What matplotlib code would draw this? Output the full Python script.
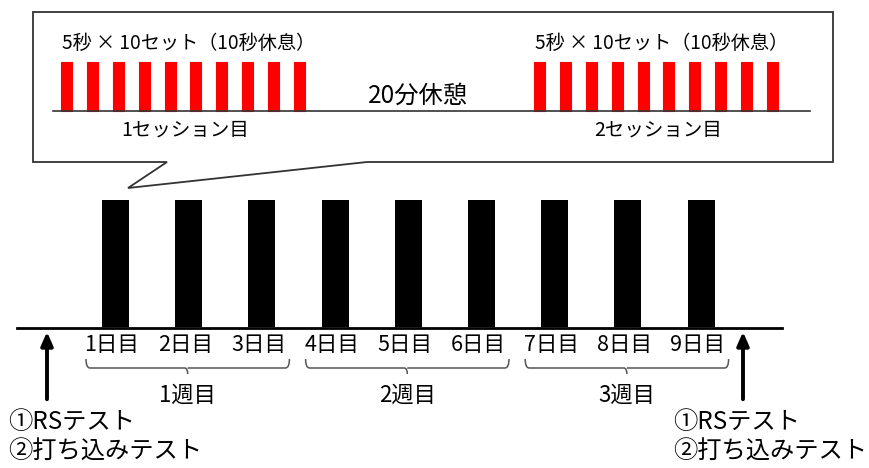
import matplotlib.pyplot as plt
from matplotlib.patches import Polygon, PathPatch
from matplotlib.path import Path

plt.rcParams['font.family'] = ['Noto Sans CJK JP', 'DejaVu Sans']

# データ
set_label = '5秒 × 10セット（10秒休息）'
n_sets = 10
session_labels = ['1セッション目', '2セッション目']
rest_label = '20分休憩'
day_labels = ['1日目', '2日目', '3日目', '4日目', '5日目', '6日目', '7日目', '8日目', '9日目']
week_labels = ['1週目', '2週目', '3週目']
days_per_week = 3
test_label = '①RSテスト\n②打ち込みテスト'

fig = plt.figure(figsize=(8.7, 4.68), dpi=100)
ax = fig.add_axes([0, 0, 1, 1])
ax.set_xlim(0, 870)
ax.set_ylim(468, 0)
ax.axis('off')

# 吹き出し
bubble = Polygon([(33, 12), (833, 12), (833, 162), (367, 162), (128, 188), (167, 162), (33, 162)],
                 closed=True, facecolor='white', edgecolor='#333333', lw=1.3, zorder=1)
ax.add_patch(bubble)

# セッション (赤いバー)
session_x0 = [61, 534]
set_step = 25.9
for s, x0 in enumerate(session_x0):
    xs = [x0 + i * set_step for i in range(n_sets)]
    ax.bar(xs, 49, bottom=62, width=11, align='edge', color='#FF0000',
           edgecolor='#FF0000', lw=0.8, joinstyle='round', zorder=2)
    ax.text(x0 + 1, 43, set_label, fontsize=13.8, va='center', ha='left', zorder=3)
    xc = (xs[0] + xs[-1] + 11) / 2
    ax.text(xc + 2, 130, session_labels[s], fontsize=14, ha='center', va='center', zorder=3)
ax.plot([53, 810], [111, 111], color='#333333', lw=1.2, zorder=2)
ax.text(418, 96, rest_label, fontsize=17.5, ha='center', va='center', zorder=3)

# 日ごとのトレーニング (黒いバー)
day_x0 = 102
day_step = 73.2
day_xs = [day_x0 + i * day_step for i in range(len(day_labels))]
ax.bar(day_xs, 127, bottom=200, width=27, align='edge', color='black', zorder=2)
ax.plot([17, 782], [328, 328], color='black', lw=2, zorder=3)
for x, lab in zip(day_xs, day_labels):
    ax.text(x + 10, 345, lab, fontsize=15.5, ha='center', va='center')

# 週のかっこ
def brace(x0, x1, y=359, h=9, tick=6):
    xm = (x0 + x1) / 2
    verts = [(x0, y), (x0, y + h), (x0 + 4, y + h),
             (xm - 3, y + h), (xm, y + h), (xm, y + h + tick),
             (xm, y + h), (xm + 3, y + h),
             (x1 - 4, y + h), (x1, y + h), (x1, y)]
    codes = [Path.MOVETO, Path.CURVE3, Path.CURVE3,
             Path.LINETO, Path.CURVE3, Path.CURVE3,
             Path.MOVETO, Path.LINETO,
             Path.LINETO, Path.CURVE3, Path.CURVE3]
    ax.add_patch(PathPatch(Path(verts, codes), fill=False, edgecolor='#555555', lw=1.1))

for w, lab in enumerate(week_labels):
    xa = day_xs[w * days_per_week] - 16
    xb = day_xs[w * days_per_week + days_per_week - 1] + 41
    brace(xa, xb)
    ax.text((xa + xb) / 2, 395, lab, fontsize=16, ha='center', va='center')

# テスト矢印
for xarr, xt in [(47, 8), (743, 673)]:
    ax.annotate('', xy=(xarr, 329), xytext=(xarr, 402),
                arrowprops=dict(arrowstyle='-|>,head_width=0.35,head_length=0.8',
                                color='black', lw=2.8))
    ax.text(xt, 437, test_label, fontsize=17.5, ha='left', va='center', linespacing=1.2)

fig.savefig('out.png', dpi=100)
